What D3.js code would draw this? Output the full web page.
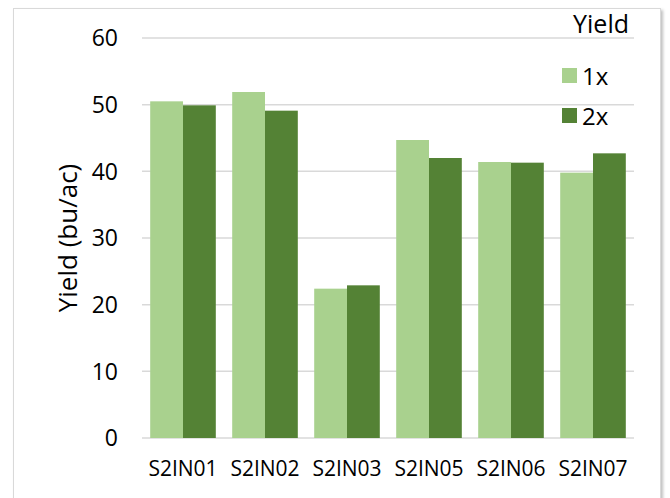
<!DOCTYPE html>
<html lang="en">
<head>
<meta charset="UTF-8">
<title>Yield chart</title>
<script src="https://cdnjs.cloudflare.com/ajax/libs/d3/7.8.5/d3.min.js"></script>
<style>
    body{
        margin:0;
        background:#fff;
        font-family:"Open Sans", sans-serif;
    }
    svg{
        display:block;
    }
</style>
</head>
<body>
<svg id="chart" width="670" height="498"></svg>
<script>
// data
const categories = ["S2IN01", "S2IN02", "S2IN03", "S2IN05", "S2IN06", "S2IN07"];
const series = ["1x", "2x"];
const yield1x = [50.5, 51.9, 22.4, 44.7, 41.4, 39.8];
const yield2x = [49.9, 49.1, 22.9, 42.0, 41.3, 42.7];
const yTicks = [0, 10, 20, 30, 40, 50, 60];
const colors = ["#a9d18e", "#548235"];

const svg = d3.select("#chart");
const plotLeft = 142, plotRight = 634, plotTop = 38, plotBottom = 438;

// frame with a soft shadow
const defs = svg.append("defs");
const f = defs.append("filter").attr("id", "shadow")
    .attr("x", "-5%").attr("y", "-5%").attr("width", "110%").attr("height", "110%");
f.append("feDropShadow").attr("dx", 2).attr("dy", 2).attr("stdDeviation", 1.5)
    .attr("flood-color", "#000").attr("flood-opacity", 0.25);

svg.append("rect")
    .attr("x", 13.5).attr("y", 8.5)
    .attr("width", 647).attr("height", 520)
    .attr("fill", "#fff")
    .attr("stroke", "#d9d9d9")
    .attr("filter", "url(#shadow)");

const x = d3.scaleBand().domain(categories).range([plotLeft, plotRight])
    .paddingInner(0.2).paddingOuter(0.1);
const xs = d3.scaleBand().domain(series).range([0, x.bandwidth()]);
const y = d3.scaleLinear().domain([0, 60]).range([plotBottom, plotTop]);

// gridlines
svg.append("g")
    .selectAll("line")
    .data(yTicks)
    .join("line")
    .attr("x1", plotLeft).attr("x2", plotRight)
    .attr("y1", d => y(d)).attr("y2", d => y(d))
    .attr("stroke", "#d9d9d9")
    .attr("stroke-width", 1.5);

// y tick labels
svg.append("g")
    .selectAll("text")
    .data(yTicks)
    .join("text")
    .attr("x", 118)
    .attr("y", d => y(d))
    .attr("dy", "0.36em")
    .attr("text-anchor", "end")
    .attr("font-size", 23)
    .attr("fill", "#000")
    .text(d => d);

// bars
const rows = categories.map((c, i) => ({cat: c, vals: [yield1x[i], yield2x[i]]}));
const groups = svg.append("g")
    .selectAll("g")
    .data(rows)
    .join("g")
    .attr("transform", d => `translate(${x(d.cat)},0)`);

groups.selectAll("rect")
    .data(d => d.vals.map((v, j) => ({s: series[j], v: v, j: j})))
    .join("rect")
    .attr("x", d => xs(d.s))
    .attr("width", xs.bandwidth())
    .attr("y", d => y(d.v))
    .attr("height", d => y(0) - y(d.v))
    .attr("fill", d => colors[d.j]);

// x labels
svg.append("g")
    .selectAll("text")
    .data(categories)
    .join("text")
    .attr("x", d => x(d) + x.bandwidth() / 2)
    .attr("y", 476)
    .attr("text-anchor", "middle")
    .attr("font-size", 21)
    .attr("fill", "#000")
    .text(d => d);

// y axis title
svg.append("text")
    .attr("transform", `translate(77,${(plotTop + plotBottom) / 2}) rotate(-90)`)
    .attr("text-anchor", "middle")
    .attr("font-size", 26)
    .attr("fill", "#000")
    .text("Yield (bu/ac)");

// legend
svg.append("text")
    .attr("x", 629).attr("y", 33)
    .attr("text-anchor", "end")
    .attr("font-size", 25)
    .attr("fill", "#000")
    .text("Yield");

const leg = svg.append("g")
    .selectAll("g")
    .data(series)
    .join("g")
    .attr("transform", (d, i) => `translate(562,${68 + i * 40})`);

leg.append("rect")
    .attr("width", 15).attr("height", 15)
    .attr("fill", (d, i) => colors[i]);

leg.append("text")
    .attr("x", 20).attr("y", 17)
    .attr("font-size", 24)
    .attr("fill", "#000")
    .text(d => d);
</script>
</body>
</html>
